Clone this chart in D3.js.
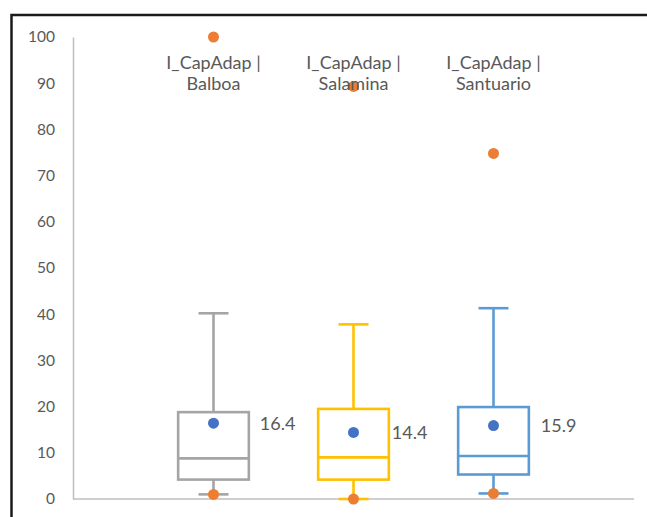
<!DOCTYPE html>
<html><head><meta charset="utf-8">
<script src="https://cdn.jsdelivr.net/npm/d3@7"></script>
<style>body{margin:0;background:#fff;}svg{display:block;}</style>
</head><body>
<svg id="c" width="647" height="517"></svg>
<script>
const categories = ["Balboa", "Salamina", "Santuario"];
const labelPrefix = "I_CapAdap |";
const whiskerLow = [1.0, 0.0, 1.2];
const q1 = [4.2, 4.2, 5.3];
const median = [8.8, 9.0, 9.3];
const q3 = [18.8, 19.5, 19.9];
const whiskerHigh = [40.2, 37.8, 41.3];
const means = [16.4, 14.4, 15.9];
const outliers = [[100, 1.0], [89.3, 0.0], [74.8, 1.2]];
const yTicks = [0, 10, 20, 30, 40, 50, 60, 70, 80, 90, 100];
const colors = ["#A5A5A5", "#FFC000", "#5B9BD5"];
const meanLabelGap = [11, 3, 12];

const svg = d3.select("#c");
const font = "Lato, 'Open Sans', sans-serif";
const textColor = "#595959";

// frame
svg.append("path").attr("d", "M11.5,520 V15 H650")
  .attr("fill", "none").attr("stroke", "#1a1a1a").attr("stroke-width", 2.5);

const y = d3.scaleLinear().domain([0, 100]).range([499, 37]);
const x = d3.scaleBand().domain(categories).range([143.5, 563.5]).padding(0);
const boxW = x.bandwidth() * 0.505;
const capW = 30;

// axes
const yAxis = d3.axisLeft(y).tickValues(yTicks).tickSize(0).tickPadding(18);
const gy = svg.append("g").attr("transform", "translate(73,0)").call(yAxis);
gy.select(".domain").attr("stroke", "#BFBFBF").attr("stroke-width", 1.5);
gy.selectAll("text").attr("font-family", font).attr("font-size", 15.5).attr("fill", textColor);

svg.append("line").attr("x1", 73).attr("x2", 634).attr("y1", y(0)).attr("y2", y(0))
  .attr("stroke", "#BFBFBF").attr("stroke-width", 1.5);

categories.forEach((c, i) => {
  const cx = x(c) + x.bandwidth() / 2;
  const g = svg.append("g");
  const col = colors[i];
  const sw = 2.6;
  // whiskers
  g.append("line").attr("x1", cx).attr("x2", cx).attr("y1", y(whiskerHigh[i])).attr("y2", y(q3[i]))
    .attr("stroke", col).attr("stroke-width", sw);
  g.append("line").attr("x1", cx).attr("x2", cx).attr("y1", y(q1[i])).attr("y2", y(whiskerLow[i]))
    .attr("stroke", col).attr("stroke-width", sw);
  g.append("line").attr("x1", cx - capW / 2).attr("x2", cx + capW / 2).attr("y1", y(whiskerHigh[i])).attr("y2", y(whiskerHigh[i]))
    .attr("stroke", col).attr("stroke-width", sw);
  g.append("line").attr("x1", cx - capW / 2).attr("x2", cx + capW / 2).attr("y1", y(whiskerLow[i])).attr("y2", y(whiskerLow[i]))
    .attr("stroke", col).attr("stroke-width", sw);
  // box
  g.append("rect").attr("x", cx - boxW / 2).attr("y", y(q3[i])).attr("width", boxW)
    .attr("height", y(q1[i]) - y(q3[i])).attr("fill", "none").attr("stroke", col).attr("stroke-width", sw);
  g.append("line").attr("x1", cx - boxW / 2).attr("x2", cx + boxW / 2).attr("y1", y(median[i])).attr("y2", y(median[i]))
    .attr("stroke", col).attr("stroke-width", sw);
  // mean
  g.append("circle").attr("cx", cx).attr("cy", y(means[i])).attr("r", 5.5).attr("fill", "#4472C4");
  g.append("text").attr("x", cx + boxW / 2 + meanLabelGap[i]).attr("y", y(means[i])).attr("dy", "0.35em")
    .attr("font-family", font).attr("font-size", 18).attr("fill", textColor).text(means[i].toFixed(1));
  // outliers
  outliers[i].forEach(v => {
    g.append("circle").attr("cx", cx).attr("cy", y(v)).attr("r", 5.5).attr("fill", "#ED7D31");
  });
  // category label
  const t = svg.append("text").attr("x", cx).attr("y", 69).attr("text-anchor", "middle")
    .attr("font-family", font).attr("font-size", 18).attr("fill", textColor);
  t.append("tspan").attr("x", cx).text(labelPrefix);
  t.append("tspan").attr("x", cx).attr("dy", 21).text(c);
});
</script>
</body></html>
